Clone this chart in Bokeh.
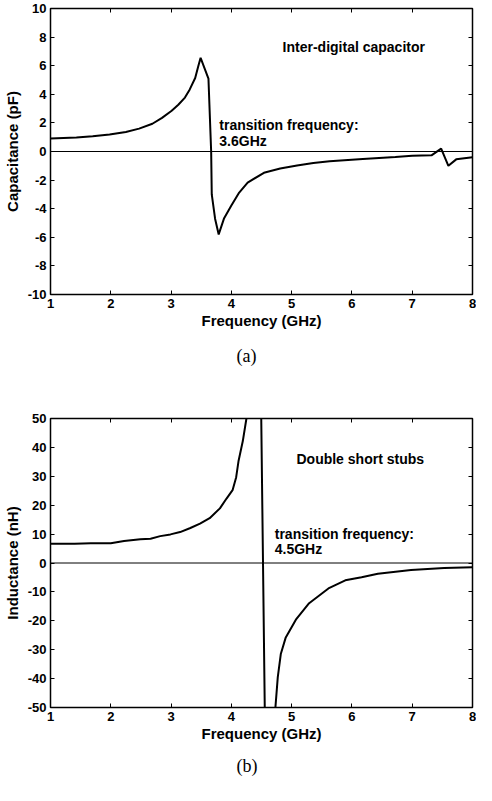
from bokeh.plotting import figure
from bokeh.models import LinearAxis, Span, Title, FixedTicker
from bokeh.layouts import column
from bokeh.embed import file_html
from bokeh.resources import INLINE
from bokeh.core.properties import value

# ---------------- data ----------------
x_ticks = [1, 2, 3, 4, 5, 6, 7, 8]

# (a) inter-digital capacitor
freq_a = [1.0, 1.43, 1.70, 1.98, 2.25, 2.47, 2.69, 2.85, 3.01, 3.12, 3.23, 3.31,
          3.40, 3.45, 3.49, 3.62, 3.665, 3.675, 3.73, 3.79, 3.88, 4.0, 4.13,
          4.27, 4.54, 4.81, 5.09, 5.36, 5.63, 6.18, 6.72, 7.0, 7.32, 7.48, 7.6,
          7.73, 8.0]
cap_pf = [0.91, 0.98, 1.07, 1.19, 1.37, 1.6, 1.94, 2.35, 2.85, 3.27, 3.77, 4.34,
          5.14, 5.94, 6.55, 5.1, 0.0, -3.0, -4.7, -5.8, -4.66, -3.77, -2.87,
          -2.17, -1.49, -1.19, -0.98, -0.8, -0.68, -0.53, -0.39, -0.3, -0.27, 0.2,
          -1.0, -0.55, -0.4]
y_ticks_a = [-10, -8, -6, -4, -2, 0, 2, 4, 6, 8, 10]

# (b) double short stubs
freq_b = [1.0, 1.40, 1.67, 2.0, 2.22, 2.49, 2.66, 2.82, 2.99, 3.15, 3.32, 3.48,
          3.64, 3.81, 3.92, 4.02, 4.08, 4.12, 4.19, 4.25, 4.49, 4.56, 4.73, 4.77,
          4.82, 4.9, 5.07, 5.29, 5.61, 5.89, 6.16, 6.43, 6.98, 7.53, 8.0]
ind_nh = [6.7, 6.7, 6.8, 6.8, 7.6, 8.2, 8.4, 9.3, 9.9, 10.7, 12.1, 13.6,
          15.5, 18.9, 22.3, 25.2, 29.7, 35.4, 42.2, 50.0, 60.0, -60.0, -50.2, -39.5,
          -31.5, -25.9, -19.6, -13.9, -8.8, -6.0, -4.9, -3.7, -2.4, -1.7, -1.5]
y_ticks_b = [-50, -40, -30, -20, -10, 0, 10, 20, 30, 40, 50]

FONT = "Liberation Sans"
SERIF = "Liberation Serif"


def style_axis(ax, ticks, show_labels=True):
    ax.ticker = FixedTicker(ticks=ticks)
    ax.axis_line_color = None
    ax.major_tick_in = 4
    ax.major_tick_out = 0
    ax.minor_tick_line_color = None
    ax.major_tick_line_color = "black"
    ax.major_tick_line_width = 1
    if show_labels:
        ax.major_label_overrides = {t: str(t) for t in ticks}
        ax.major_label_text_font = FONT
        ax.major_label_text_font_style = "bold"
        ax.major_label_text_font_size = "13px"
        ax.major_label_text_color = "black"
        ax.major_label_standoff = 4
        ax.axis_label_text_font = FONT
        ax.axis_label_text_font_style = "bold"
        ax.axis_label_text_font_size = "15px"
        ax.axis_label_text_color = "black"
    else:
        ax.major_label_text_font_size = "1px"
        ax.major_label_text_color = None
        ax.major_label_text_alpha = 0
        ax.major_label_standoff = 0


def make_panel(xs, ys, yticks, yrange, ylabel, caption, h, top, bottom,
               texts, cap_standoff):
    p = figure(width=476, height=h, x_range=(1, 8), y_range=yrange,
               output_backend="svg", toolbar_location=None,
               min_border_left=49, min_border_right=4,
               min_border_top=top, min_border_bottom=bottom)
    p.xgrid.visible = False
    p.ygrid.visible = False
    p.outline_line_color = "black"
    p.outline_line_width = 1.5
    p.background_fill_color = "white"
    p.border_fill_color = "white"

    style_axis(p.xaxis[0], x_ticks)
    style_axis(p.yaxis[0], yticks)
    p.xaxis.axis_label = "Frequency (GHz)"
    p.xaxis.axis_label_standoff = 1
    p.yaxis.axis_label = ylabel
    p.yaxis.axis_label_standoff = 4

    top_ax = LinearAxis()
    style_axis(top_ax, x_ticks, show_labels=False)
    p.add_layout(top_ax, "above")
    right_ax = LinearAxis()
    style_axis(right_ax, yticks, show_labels=False)
    p.add_layout(right_ax, "right")

    p.add_layout(Span(location=0, dimension="width", line_color="black",
                      line_width=1))
    p.line(xs, ys, line_color="black", line_width=2)

    for tx, ty, tt in texts:
        p.text(x=[tx], y=[ty], text=[tt], text_font=value(FONT),
               text_font_style="bold", text_font_size="14px",
               text_baseline="middle", text_align="left", text_color="black")

    p.add_layout(Title(text=caption, align="left", offset=186,
                       text_font=SERIF, text_font_size="18px",
                       text_font_style="normal", standoff=cap_standoff,
                       text_color="black"), "below")
    return p


pa = make_panel(freq_a, cap_pf, y_ticks_a, (-10, 10), "Capacitance (pF)", "(a)",
                383, 8, 89,
                [(4.85, 7.3, "Inter-digital capacitor"),
                 (3.80, 1.85, "transition frequency:"),
                 (3.80, 0.7, "3.6GHz")], 25)

pb = make_panel(freq_b, ind_nh, y_ticks_b, (-50, 50), "Inductance (nH)", "(b)",
                402, 35, 78,
                [(5.08, 36.0, "Double short stubs"),
                 (4.72, 9.9, "transition frequency:"),
                 (4.72, 4.8, "4.5GHz")], 19)

layout = column(pa, pb, spacing=0)
open("out.html", "w").write(file_html(layout, INLINE))
